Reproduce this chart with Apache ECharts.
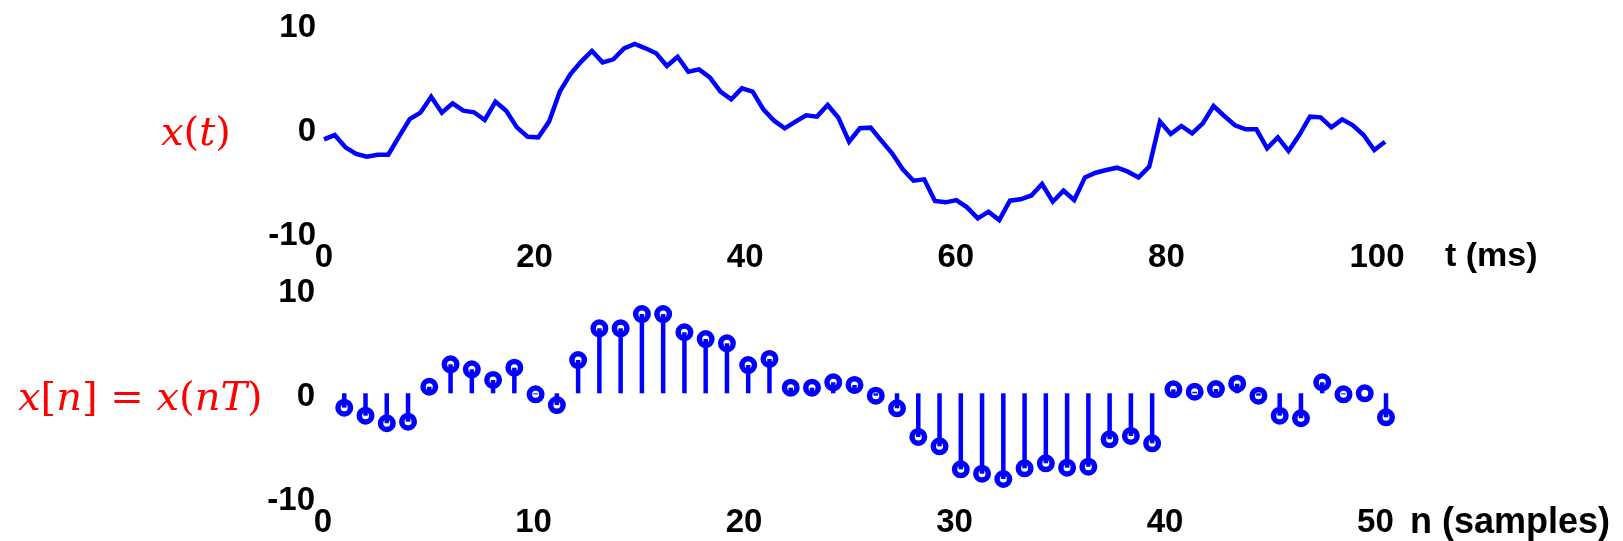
<!DOCTYPE html>
<html>
<head>
<meta charset="utf-8">
<script src="https://cdn.jsdelivr.net/npm/echarts@6.0.0/dist/echarts.min.js"></script>
<style>
html,body{margin:0;padding:0;background:#fff;}
#c{width:1623px;height:541px;}
</style>
</head>
<body>
<div id="c"></div>
<script>
// ---- data ----
// continuous signal x(t): sample times (ms) and values
const tMs = [0, 1.01, 2.02, 3.03, 4.04, 5.05, 6.06, 7.07, 8.08, 9.09,
  10.10, 11.11, 12.12, 13.13, 14.14, 15.15, 16.16, 17.17, 18.18, 19.19,
  20.20, 21.21, 22.22, 23.23, 24.24, 25.25, 26.26, 27.27, 28.28, 29.29,
  30.30, 31.31, 32.32, 33.33, 34.34, 35.35, 36.36, 37.37, 38.38, 39.39,
  40.40, 41.41, 42.42, 43.43, 44.44, 45.45, 46.46, 47.47, 48.48, 49.49,
  50.51, 51.52, 52.53, 53.54, 54.55, 55.56, 56.57, 57.58, 58.59, 59.60,
  60.61, 61.62, 62.63, 63.64, 64.65, 65.66, 66.67, 67.68, 68.69, 69.70,
  70.71, 71.72, 72.73, 73.74, 74.75, 75.76, 76.77, 77.78, 78.79, 79.80,
  80.81, 81.82, 82.83, 83.84, 84.85, 85.86, 86.87, 87.88, 88.89, 89.90,
  90.91, 91.92, 92.93, 93.94, 94.95, 95.96, 96.97, 97.98, 98.99, 100];
const xt = [-1.04, -0.63, -1.81, -2.45, -2.71, -2.52, -2.52, -0.79, 0.91, 1.52,
  3.06, 1.52, 2.42, 1.71, 1.56, 0.82, 2.58, 1.71, 0.11, -0.79,
  -0.85, 0.66, 3.54, 5.24, 6.43, 7.45, 6.36, 6.65, 7.71, 8.13,
  7.71, 7.23, 6.01, 6.9, 5.46, 5.69, 4.92, 3.54, 2.8, 3.86,
  3.54, 1.84, 0.75, 0.02, 0.66, 1.27, 1.14, 2.26, 1.04, -1.27,
  0.02, 0.08, -1.17, -2.39, -3.93, -5.02, -4.89, -6.97, -7.1, -6.88,
  -7.58, -8.64, -8.0, -8.8, -6.94, -6.81, -6.44, -5.34, -7.04, -5.98,
  -6.88, -4.70, -4.25, -3.99, -3.77, -4.15, -4.70, -3.67, 0.66, -0.53,
  0.24, -0.47, 0.5, 2.16, 1.2, 0.31, -0.08, -0.08, -1.91, -0.85,
  -2.16, -0.63, 1.14, 1.07, 0.11, 0.88, 0.31, -0.63, -2.07, -1.27];

// sampled signal x[n]
const nIdx = [1,2,3,4,5,6,7,8,9,10,11,12,13,14,15,16,17,18,19,20,
  21,22,23,24,25,26,27,28,29,30,31,32,33,34,35,36,37,38,39,40,
  41,42,43,44,45,46,47,48,49,50];
const xn = [-1.38, -2.15, -2.88, -2.73, 0.63, 2.79, 2.31, 1.28, 2.46, -0.1,
  -1.13, 3.2, 6.25, 6.25, 7.62, 7.62, 5.87, 5.22, 4.81, 2.72,
  3.3, 0.54, 0.54, 1.06, 0.8, -0.23, -1.44, -4.2, -5.1, -7.31,
  -7.73, -8.24, -7.21, -6.73, -7.15, -7.06, -4.42, -4.1, -4.81, 0.38,
  0.15, 0.41, 0.92, -0.23, -2.15, -2.4, 1.06, -0.1, 0, -2.31];

// axes
const tTicks = {min: 0, max: 100, interval: 20};
const nTicks = {min: 0, max: 50, interval: 10};
const yTicks = {min: -10, max: 10, interval: 10};
const tAxisName = 't (ms)';
const nAxisName = 'n (samples)';

// ---- chart ----
const BLUE = '#0000ff';
const FONT = 'Liberation Sans, Arial, sans-serif';
// data axes (no labels)
function xData(gi, tk) {
  return {gridIndex: gi, type: 'value', position: 'bottom', min: tk.min, max: tk.max, interval: tk.interval,
    axisLine: {show: false}, axisTick: {show: false}, splitLine: {show: false}, axisLabel: {show: false}};
}
// label axes: tick labels of the reference sit on a slightly narrower span than the data
function xLabels(gi, tk, span) {
  return {gridIndex: gi, type: 'value', position: 'bottom', offset: 0,
    min: tk.min, max: tk.max * span, interval: tk.interval,
    axisLine: {show: false}, axisTick: {show: false}, splitLine: {show: false},
    axisLabel: {color: '#000', fontWeight: 'bold', fontSize: 33, fontFamily: FONT, margin: 9,
      showMaxLabel: true,
      formatter: v => (Math.abs(v / tk.interval - Math.round(v / tk.interval)) < 1e-6 && v <= tk.max + 1e-6) ? String(Math.round(v)) : ''}};
}
function yAx(gi) {
  return {gridIndex: gi, type: 'value', min: yTicks.min, max: yTicks.max, interval: yTicks.interval,
    axisLine: {show: false}, axisTick: {show: false}, splitLine: {show: false},
    axisLabel: {color: '#000', fontWeight: 'bold', fontSize: 33, fontFamily: FONT, margin: 8,
      verticalAlign: 'top', lineHeight: 7}};
}
const serif = 'DejaVu Serif, Liberation Serif, serif';
const mathRich = {
  i: {fontFamily: serif, fontStyle: 'italic', fontSize: 40, fill: '#ff0000', color: '#ff0000'},
  r: {fontFamily: serif, fontStyle: 'normal', fontSize: 40, fill: '#ff0000', color: '#ff0000'}
};
const chart = echarts.init(document.getElementById('c'), null, {renderer: 'canvas'});
chart.setOption({
  animation: false,
  backgroundColor: '#fff',
  grid: [
    {left: 324, width: 1061, top: 24.5, height: 208, containLabel: false, outerBoundsMode: 'none'},
    {left: 323, width: 1063, top: 289.3, height: 208, containLabel: false, outerBoundsMode: 'none'}
  ],
  xAxis: [xData(0, tTicks), xData(1, nTicks), xLabels(0, tTicks, 1.0076), xLabels(1, nTicks, 1.01)],
  yAxis: [yAx(0), yAx(1)],
  series: [
    {type: 'line', xAxisIndex: 0, yAxisIndex: 0, showSymbol: false,
      data: tMs.map((t, i) => [t, xt[i]]),
      lineStyle: {color: BLUE, width: 4.5, join: 'miter'}},
    {type: 'scatter', xAxisIndex: 1, yAxisIndex: 1, z: 2,
      data: nIdx.map((n, i) => [n, xn[i]]),
      symbol: 'circle', symbolSize: 12.5,
      itemStyle: {color: '#ffffff', borderColor: BLUE, borderWidth: 5.5, opacity: 1}},
    {type: 'bar', xAxisIndex: 1, yAxisIndex: 1, z: 3, barWidth: 4.5,
      data: nIdx.map((n, i) => [n, xn[i]]),
      itemStyle: {color: BLUE}}
  ],
  graphic: [
    {type: 'text', x: 161, y: 135, style: {text: '{i|x}{r|(}{i|t}{r|)}', rich: mathRich, fill: '#ff0000', verticalAlign: 'middle'}},
    {type: 'text', x: 18, y: 400, style: {text: '{i|x}{r|[}{i|n}{r|] = }{i|x}{r|(}{i|nT}{r|)}', rich: mathRich, fill: '#ff0000', verticalAlign: 'middle'}},
    {type: 'text', x: 1445, y: 257, style: {text: tAxisName, fill: '#000', font: 'bold 34px Liberation Sans, Arial, sans-serif', verticalAlign: 'middle'}},
    {type: 'text', x: 1410, y: 523, style: {text: nAxisName, fill: '#000', font: 'bold 36px Liberation Sans, Arial, sans-serif', verticalAlign: 'middle'}}
  ]
});
</script>
</body>
</html>
